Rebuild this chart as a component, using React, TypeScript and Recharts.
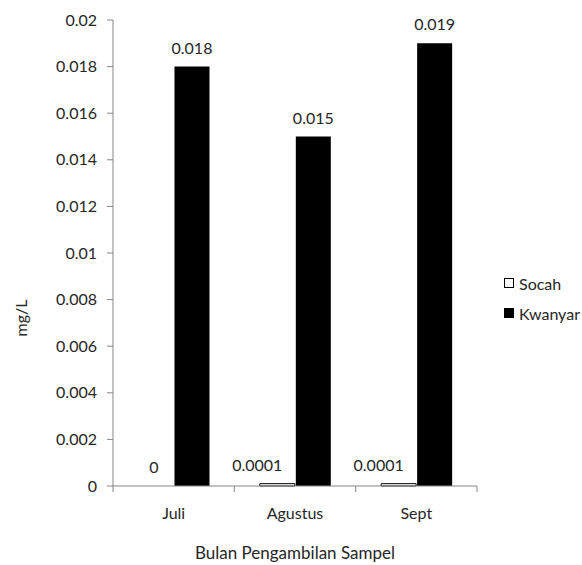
import { Bar, BarChart, LabelList, Legend, XAxis, YAxis, Label } from "recharts";

const months = ["Juli", "Agustus", "Sept"];
const socah = [0, 0.0001, 0.0001];
const kwanyar = [0.018, 0.015, 0.019];
const yTicks = [0, 0.002, 0.004, 0.006, 0.008, 0.01, 0.012, 0.014, 0.016, 0.018, 0.02];

const data = months.map((m, i) => ({ month: m, Socah: socah[i], Kwanyar: kwanyar[i] }));

const FONT = "Lato, 'Open Sans', sans-serif";
const AXIS = "#868686";
const TEXT = "#262626";

function MonthTick(props: any) {
  const { x, y, payload, index, visibleTicksCount } = props;
  const half = payload.offset ?? 60.7;
  const last = index === visibleTicksCount - 1;
  return (
    <g>
      <line x1={x - half} y1={y - 8} x2={x - half} y2={y - 2} stroke={AXIS} />
      {last && <line x1={x + half} y1={y - 8} x2={x + half} y2={y - 2} stroke={AXIS} />}
      <text x={x} y={y + 25} textAnchor="middle" fill={TEXT} fontSize={16} fontFamily={FONT}>
        {payload.value}
      </text>
    </g>
  );
}

// Socah labels are hung off the Kwanyar bars, because a zero-height bar gets no label entry.
function SocahLabel(props: any) {
  const { x, y, width, height, index } = props;
  const s = socah[index];
  const k = kwanyar[index];
  const base = y + height;
  const top = base - (k ? (height * s) / k : 0);
  const cx = x - 1 - width / 2 + (s > 0 ? -20 : -2);
  return (
    <text x={cx} y={top - 13} textAnchor="middle" fill={TEXT} fontSize={16} fontFamily={FONT}>
      {String(s)}
    </text>
  );
}

function LegendBox() {
  const item = (label: string, fill: string) => (
    <div style={{ display: "flex", alignItems: "center", height: 30 }}>
      <span style={{ width: 8, height: 8, border: "1px solid #000", background: fill, marginRight: 5 }} />
      <span>{label}</span>
    </div>
  );
  return (
    <div style={{ fontFamily: FONT, fontSize: 16, color: TEXT }}>
      {item("Socah", "#fff")}
      {item("Kwanyar", "#000")}
    </div>
  );
}

export default function App() {
  return (
    <div style={{ position: "absolute", left: 0, top: 0, background: "#fff" }}>
      <BarChart
        width={582}
        height={565}
        data={data}
        margin={{ top: 20, right: 25, bottom: 0, left: 0 }}
        barCategoryGap="21%"
        barGap={1}
      >
        <XAxis
          dataKey="month"
          height={79}
          stroke={AXIS}
          tickLine={false}
          tick={<MonthTick />}
          interval={0}
        >
          <Label
            value="Bulan Pengambilan Sampel"
            position="insideBottom"
            offset={6}
            fill={TEXT}
            fontSize={17}
            fontFamily={FONT}
          />
        </XAxis>
        <YAxis
          width={113}
          domain={[0, 0.02]}
          ticks={yTicks}
          interval={0}
          stroke={AXIS}
          tickSize={6}
          tickMargin={10}
          tick={{ fill: TEXT, fontSize: 16, fontFamily: FONT }}
        >
          <Label
            content={({ viewBox }: any) => (
              <text
                x={viewBox.x + 20}
                y={viewBox.y + viewBox.height / 2 + 65}
                transform={`rotate(-90, ${viewBox.x + 20}, ${viewBox.y + viewBox.height / 2 + 65})`}
                textAnchor="middle"
                dominantBaseline="central"
                fill={TEXT}
                fontSize={16}
                fontFamily={FONT}
              >
                mg/L
              </text>
            )}
          />
        </YAxis>
        <Legend
          layout="vertical"
          verticalAlign="top"
          align="right"
          wrapperStyle={{ left: 504, top: 268, width: 80 }}
          content={<LegendBox />}
        />
        <Bar dataKey="Socah" fill="#fff" stroke="#000" strokeWidth={1} isAnimationActive={false} />
        <Bar dataKey="Kwanyar" fill="#000" isAnimationActive={false}>
          <LabelList dataKey="Kwanyar" position="top" offset={13} fill={TEXT} fontSize={16} fontFamily={FONT} />
          <LabelList dataKey="Socah" content={<SocahLabel />} />
        </Bar>
      </BarChart>
    </div>
  );
}
